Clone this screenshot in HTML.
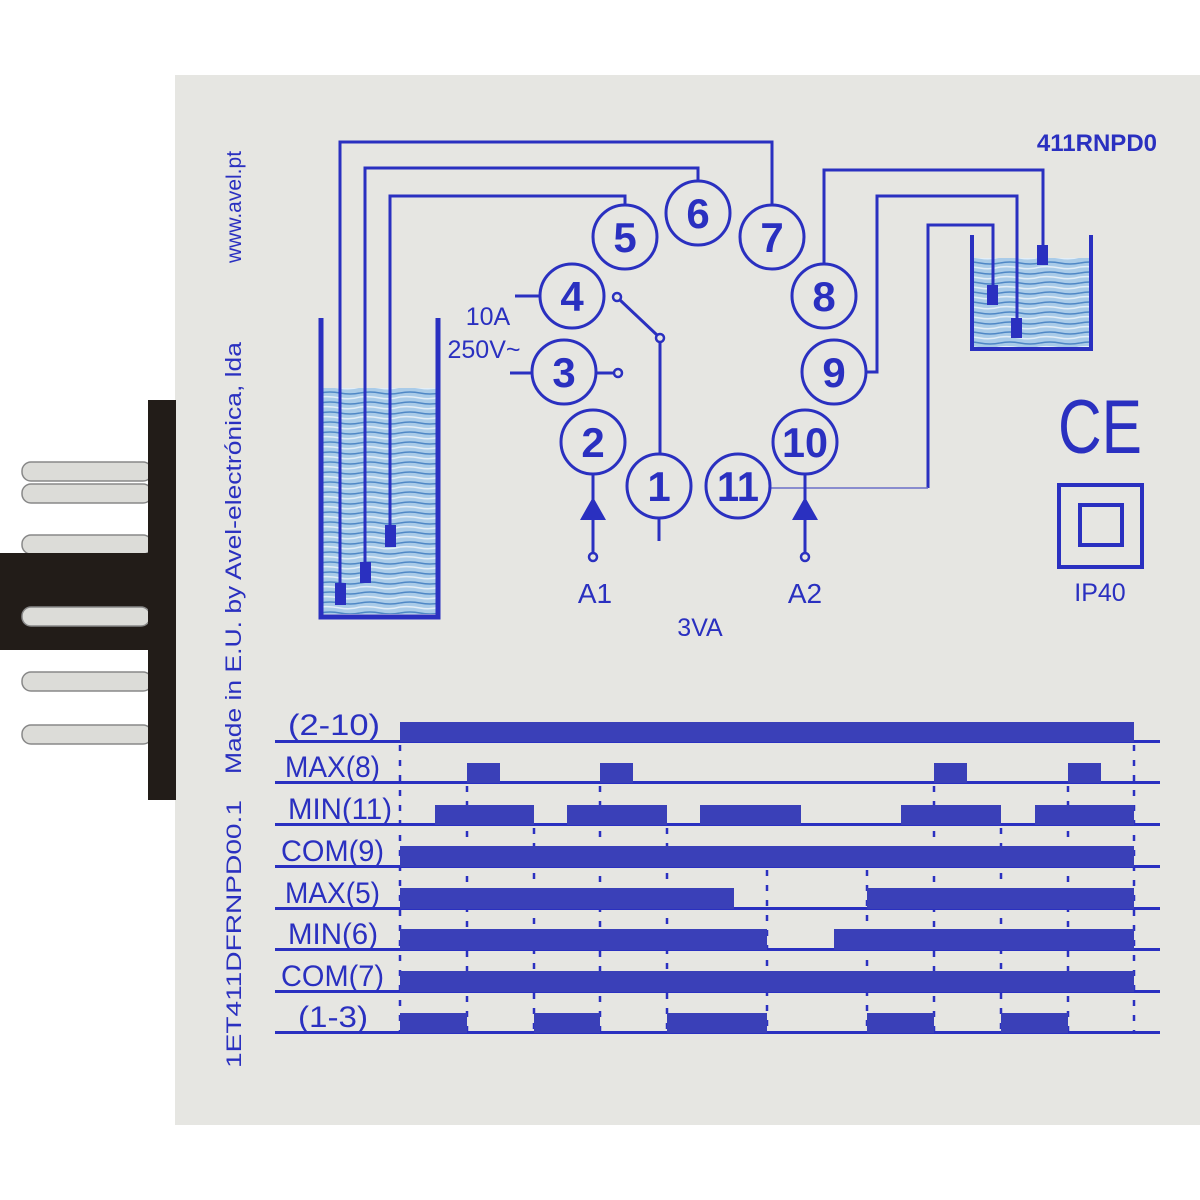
<!DOCTYPE html>
<html><head><meta charset="utf-8"><style>
html,body{margin:0;padding:0;background:#fff}
svg{display:block}
text{font-family:"Liberation Sans",Arial,sans-serif;fill:#2a30c0}
</style></head><body>
<svg width="1200" height="1200" viewBox="0 0 1200 1200" xmlns="http://www.w3.org/2000/svg" font-family="Liberation Sans, Arial, sans-serif">
<defs>
<pattern id="wv" width="40" height="10" patternUnits="userSpaceOnUse">
<rect width="40" height="10" fill="#a9cbe8"/>
<path d="M0 3 Q10 1 20 3 T40 3" stroke="#4f88c6" stroke-width="1.5" fill="none"/>
<path d="M0 7 Q10 6 20 8 T40 7" stroke="#e2eef8" stroke-width="1.5" fill="none"/>
</pattern>
</defs>
<rect x="175" y="75" width="1025" height="1050" fill="#e6e6e2"/>
<!-- connector -->
<g fill="#dcdcd8" stroke="#888" stroke-width="1.5">
<rect x="22" y="462" width="130" height="19" rx="9"/>
<rect x="22" y="484" width="130" height="19" rx="9"/>
<rect x="22" y="535" width="130" height="19" rx="9"/>
<rect x="22" y="672" width="130" height="19" rx="9"/>
<rect x="22" y="725" width="130" height="19" rx="9"/>
</g>
<rect x="0" y="553" width="150" height="97" fill="#221c18"/>
<rect x="22" y="607" width="128" height="19" rx="9" fill="#dcdcd8" stroke="#888" stroke-width="1.5"/>
<rect x="148" y="400" width="28" height="400" fill="#221c18"/>
<!-- vertical texts -->
<text transform="translate(241,207) rotate(-90)" text-anchor="middle" font-size="21">www.avel.pt</text>
<text transform="translate(241,558) rotate(-90)" text-anchor="middle" font-size="22" textLength="432" lengthAdjust="spacingAndGlyphs">Made in E.U. by Avel-electrónica, lda</text>
<text transform="translate(241,934) rotate(-90)" text-anchor="middle" font-size="21" textLength="268" lengthAdjust="spacingAndGlyphs">1ET411DFRNPD00.1</text>
<!-- left tank -->
<rect x="323" y="388" width="113" height="226" fill="url(#wv)"/>
<path d="M321 318 V617 H438 V318" stroke="#2a30c0" stroke-width="5" fill="none"/>
<!-- right tank -->
<rect x="974" y="258" width="115" height="89" fill="url(#wv)"/>
<path d="M972 235 V349 H1091 V235" stroke="#2a30c0" stroke-width="4" fill="none"/>
<g stroke="#2a30c0" stroke-width="3" fill="none">
<path d="M772 205 V142 H340 V585"/>
<path d="M698 183 V168 H365 V565"/>
<path d="M625 207 V196 H390 V528"/>
<path d="M824 264 V170 H1043 V248"/>
<path d="M866 372 H877 V196 H1017 V320"/>
<path d="M928 488 V225 H993 V287" />
</g>
<path d="M770 488 H928" stroke="#6a6ec8" stroke-width="1.5"/>
<g fill="#2a30c0">
<rect x="335" y="583" width="11" height="22"/>
<rect x="360" y="562" width="11" height="21"/>
<rect x="385" y="525" width="11" height="22"/>
<rect x="1037" y="245" width="11" height="20"/>
<rect x="1011" y="318" width="11" height="20"/>
<rect x="987" y="285" width="11" height="20"/>
</g>
<!-- pins -->
<g stroke="#2a30c0" stroke-width="3" fill="#e6e6e2">
<circle cx="625" cy="237" r="32"/><circle cx="698" cy="213" r="32"/><circle cx="772" cy="237" r="32"/>
<circle cx="572" cy="296" r="32"/><circle cx="824" cy="296" r="32"/>
<circle cx="564" cy="372" r="32"/><circle cx="834" cy="372" r="32"/>
<circle cx="593" cy="442" r="32"/><circle cx="805" cy="442" r="32"/>
<circle cx="659" cy="486" r="32"/><circle cx="738" cy="486" r="32"/>
</g>
<g font-size="42" font-weight="bold" text-anchor="middle">
<text x="625" y="252">5</text><text x="698" y="228">6</text><text x="772" y="252">7</text>
<text x="572" y="311">4</text><text x="824" y="311">8</text>
<text x="564" y="387">3</text><text x="834" y="387">9</text>
<text x="593" y="457">2</text><text x="805" y="457" textLength="46" lengthAdjust="spacingAndGlyphs">10</text>
<text x="659" y="501">1</text><text x="738" y="501" textLength="42" lengthAdjust="spacingAndGlyphs">11</text>
</g>
<g stroke="#2a30c0" stroke-width="3" fill="none">
<path d="M515 296 H540"/><path d="M510 373 H532"/><path d="M596 373 H613"/>
<path d="M620 300 L657 335"/><path d="M660 342 V454"/><path d="M659 518 V541"/>
<path d="M593 474 V553"/><path d="M805 474 V553"/>
</g>
<g stroke="#2a30c0" stroke-width="2.5" fill="#e6e6e2">
<circle cx="617" cy="297" r="4"/><circle cx="660" cy="338" r="4"/><circle cx="618" cy="373" r="4"/>
<circle cx="593" cy="557" r="4"/><circle cx="805" cy="557" r="4"/>
</g>
<path d="M593 497 L580 520 H606 Z M805 497 L792 520 H818 Z" fill="#2a30c0"/>
<g font-size="25">
<text x="488" y="325" text-anchor="middle">10A</text>
<text x="484" y="358" text-anchor="middle">250V~</text>
<text x="595" y="603" text-anchor="middle" font-size="28">A1</text>
<text x="805" y="603" text-anchor="middle" font-size="28">A2</text>
<text x="700" y="636" text-anchor="middle">3VA</text>
<text x="1100" y="601" text-anchor="middle">IP40</text>
</g>
<text x="1157" y="151" text-anchor="end" font-size="24" font-weight="bold">411RNPD0</text>
<text x="1100" y="453" text-anchor="middle" font-size="76" textLength="84" lengthAdjust="spacingAndGlyphs">CE</text>
<rect x="1059" y="485" width="83" height="82" fill="none" stroke="#2a30c0" stroke-width="4"/>
<rect x="1080" y="505" width="42" height="40" fill="none" stroke="#2a30c0" stroke-width="4"/>
<!-- timing diagram -->
<g stroke="#2a30c0" stroke-width="2.5" stroke-dasharray="6 9">
<path d="M400 745 V1033 M1134 745 V1033"/>
<path d="M467 786 V1033 M600 786 V1033 M934 786 V1033 M1068 786 V1033"/>
<path d="M534 828 V1033 M667 828 V1033 M767 870 V1033 M867 870 V1033 M1001 828 V1033"/>
</g>
<g fill="#2a30c0">
<rect x="275" y="740" width="885" height="3"/>
<rect x="275" y="781" width="885" height="3"/>
<rect x="275" y="823" width="885" height="3"/>
<rect x="275" y="865" width="885" height="3"/>
<rect x="275" y="907" width="885" height="3"/>
<rect x="275" y="948" width="885" height="3"/>
<rect x="275" y="990" width="885" height="3"/>
<rect x="275" y="1031" width="885" height="3"/>
</g>
<g fill="#3a40b8">
<rect x="400" y="722" width="734" height="20"/>
<rect x="467" y="763" width="33" height="20"/><rect x="600" y="763" width="33" height="20"/>
<rect x="934" y="763" width="33" height="20"/><rect x="1068" y="763" width="33" height="20"/>
<rect x="435" y="805" width="99" height="20"/><rect x="567" y="805" width="100" height="20"/>
<rect x="700" y="805" width="101" height="20"/><rect x="901" y="805" width="100" height="20"/>
<rect x="1035" y="805" width="99" height="20"/>
<rect x="400" y="846" width="734" height="21"/>
<rect x="400" y="888" width="334" height="21"/><rect x="867" y="888" width="267" height="21"/>
<rect x="400" y="929" width="367" height="21"/><rect x="834" y="929" width="300" height="21"/>
<rect x="400" y="971" width="734" height="21"/>
<rect x="400" y="1013" width="67" height="20"/><rect x="534" y="1013" width="66" height="20"/>
<rect x="667" y="1013" width="100" height="20"/><rect x="867" y="1013" width="67" height="20"/>
<rect x="1001" y="1013" width="67" height="20"/>
</g>
<g font-size="30" text-anchor="end">
<text x="380" y="735" textLength="92" lengthAdjust="spacingAndGlyphs">(2-10)</text>
<text x="380" y="777" textLength="95" lengthAdjust="spacingAndGlyphs">MAX(8)</text>
<text x="392" y="819" textLength="104" lengthAdjust="spacingAndGlyphs">MIN(11)</text>
<text x="384" y="861" textLength="103" lengthAdjust="spacingAndGlyphs">COM(9)</text>
<text x="380" y="903" textLength="95" lengthAdjust="spacingAndGlyphs">MAX(5)</text>
<text x="378" y="944" textLength="90" lengthAdjust="spacingAndGlyphs">MIN(6)</text>
<text x="384" y="986" textLength="103" lengthAdjust="spacingAndGlyphs">COM(7)</text>
<text x="368" y="1027" textLength="70" lengthAdjust="spacingAndGlyphs">(1-3)</text>
</g>
</svg>
</body></html>
